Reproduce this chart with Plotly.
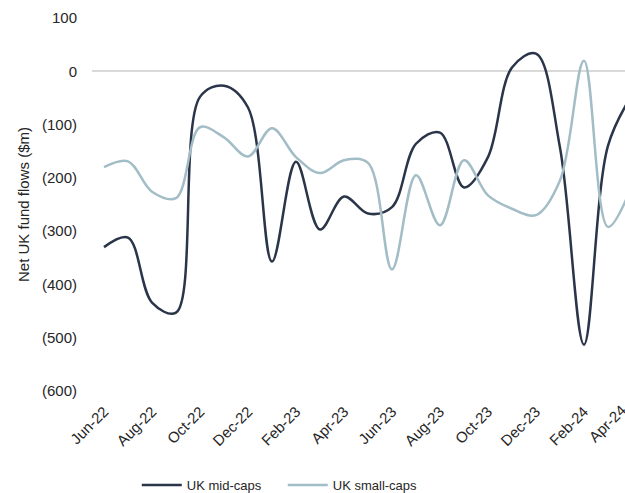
import plotly.graph_objects as go

months = ["Jun-22", "Jul-22", "Aug-22", "Sep-22", "Oct-22", "Nov-22", "Dec-22",
          "Jan-23", "Feb-23", "Mar-23", "Apr-23", "May-23", "Jun-23", "Jul-23",
          "Aug-23", "Sep-23", "Oct-23", "Nov-23", "Dec-23", "Jan-24", "Feb-24",
          "Mar-24", "Apr-24"]
mid_caps = [-330, -312, -434, -453, -48, -27, -68, -357, -170, -297, -235, -267,
            -255, -136, -115, -218, -161, 7, 33, -143, -513, -140, -45]
small_caps = [-180, -169, -226, -238, -105, -124, -160, -107, -161, -191, -167, -172,
              -372, -195, -289, -167, -233, -258, -270, -205, 20, -292, -215]
y_ticks = [100, 0, -100, -200, -300, -400, -500, -600]
y_tick_text = ["100", "0", "(100)", "(200)", "(300)", "(400)", "(500)", "(600)"]

x_idx = list(range(len(months)))
x_range = [-0.5, 21.71]

fig = go.Figure()
fig.add_trace(go.Scatter(x=x_idx, y=mid_caps, name="UK mid-caps", mode="lines",
                         line=dict(color="#2a3549", width=2.5, shape="spline", smoothing=1)))
fig.add_trace(go.Scatter(x=x_idx, y=small_caps, name="UK small-caps", mode="lines",
                         line=dict(color="#a3bdc6", width=2.5, shape="spline", smoothing=1)))

font_family = "Liberation Sans, Arial, sans-serif"
fs = 15
fs_leg = 13
tick_idx = x_idx[::2]
in_range = [i for i in tick_idx if x_range[0] <= i <= x_range[1]]
out_range = [i for i in tick_idx if i > x_range[1]]

# tick labels that fall just beyond the (cropped) right edge of the plot
for i in out_range:
    frac = (i - x_range[0]) / (x_range[1] - x_range[0])
    fig.add_annotation(x=frac, xref="paper", y=0, yref="paper", yshift=-8,
                       text=months[i], showarrow=False, textangle=-45,
                       xanchor="right", yanchor="top", font=dict(size=fs, color="#262626"))

fig.update_layout(
    width=625, height=493,
    margin=dict(l=92, r=0, t=18, b=102),
    paper_bgcolor="white", plot_bgcolor="white",
    font=dict(family=font_family, size=fs, color="#262626"),
    showlegend=True,
    legend=dict(orientation="h", x=0.084, xanchor="left", y=0.016, yref="container",
                yanchor="middle",
                font=dict(size=fs_leg, color="#262626"), entrywidth=91, entrywidthmode="pixels",
                itemwidth=40, bgcolor="rgba(0,0,0,0)"),
    xaxis=dict(range=x_range, tickvals=in_range, ticktext=[months[i] for i in in_range],
               tickangle=-45, showgrid=False, zeroline=False, showline=False,
               ticks="", ticklabelstandoff=8, tickfont=dict(size=fs), automargin=False),
    yaxis=dict(range=[-600, 100], tickvals=y_ticks, ticktext=y_tick_text,
               showgrid=False, zeroline=True, zerolinecolor="#d9d9d9", zerolinewidth=1.5,
               showline=False, ticks="", ticklabelstandoff=14, tickfont=dict(size=fs),
               automargin=False,
               title=dict(text="Net UK fund flows ($m)", font=dict(size=fs), standoff=8)),
)

fig.write_html("out.html")
